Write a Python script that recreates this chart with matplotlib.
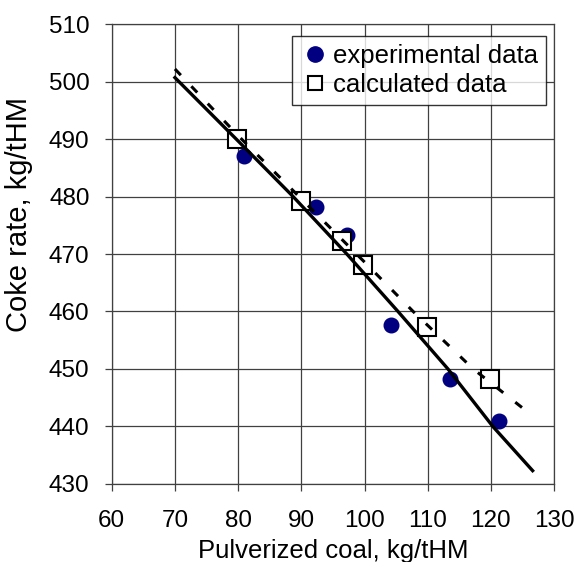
import matplotlib
matplotlib.use("Agg")
import matplotlib.pyplot as plt

plt.rcParams["font.family"] = ["Liberation Sans", "DejaVu Sans"]

# experimental points
exp_pc   = [80.9, 92.4, 97.2, 104.2, 113.6, 121.3]
exp_coke = [487.1, 478.1, 473.3, 457.6, 448.2, 441.0]

# calculated points
calc_pc   = [79.8, 89.9, 96.4, 99.8, 109.9, 119.8]
calc_coke = [490.0, 479.2, 472.3, 468.1, 457.3, 448.3]

# solid trend line
fit_pc   = [70.0, 79.7, 88.7, 97.2, 105.3, 113.2, 120.3, 126.6]
fit_coke = [500.7, 490.0, 480.0, 470.0, 460.0, 450.0, 440.0, 432.3]

# dashed trend line
dash_pc   = [70.0, 80.0, 90.0, 100.0, 107.7, 117.2, 126.4]
dash_coke = [502.2, 490.6, 479.6, 468.6, 460.0, 450.0, 442.0]

fig = plt.figure(figsize=(5.79, 5.62), dpi=100)
ax = fig.add_axes([0.193, 0.139, 0.764, 0.818])

ax.plot(fit_pc, fit_coke, color="black", lw=2.4, zorder=3)
ax.plot(dash_pc, dash_coke, color="black", lw=2.2, dashes=(2.8, 5.0), zorder=3)
ax.plot(exp_pc, exp_coke, "o", color="#000080", ms=10.5, ls="none",
        label="experimental data", zorder=2)
ax.plot(calc_pc, calc_coke, "s", mfc="white", mec="black", mew=1.5, ms=12.5,
        ls="none", label="calculated data", zorder=2)

ax.set_xlim(60, 130)
ax.set_ylim(430, 510)
ax.set_xticks(range(60, 131, 10))
ax.set_yticks(range(430, 511, 10))
ax.grid(True, color="#404040", lw=0.9)
ax.set_axisbelow(True)
for s in ax.spines.values():
    s.set_color("#404040")
    s.set_linewidth(0.9)
ax.tick_params(direction="out", length=5, width=0.9, color="#404040",
               labelsize=17.5)
ax.tick_params(axis="x", pad=14)
ax.tick_params(axis="y", pad=11)

ax.set_xlabel("Pulverized coal, kg/tHM", fontsize=18.5, labelpad=5)
ax.set_ylabel("Coke rate, kg/tHM", fontsize=21, va="center")
ax.yaxis.set_label_coords(-0.21, 0.585)

leg = ax.legend(loc="upper right", bbox_to_anchor=(0.993, 0.985), fontsize=18.5,
                frameon=True, fancybox=False, edgecolor="black",
                handletextpad=0.1, handlelength=1.2, borderpad=0.3,
                labelspacing=0.2, borderaxespad=0.2)
leg.get_frame().set_linewidth(1.0)
leg.legend_handles[0].set_markersize(11)
leg.legend_handles[1].set_markersize(10)

fig.savefig("out.png", dpi=100)
